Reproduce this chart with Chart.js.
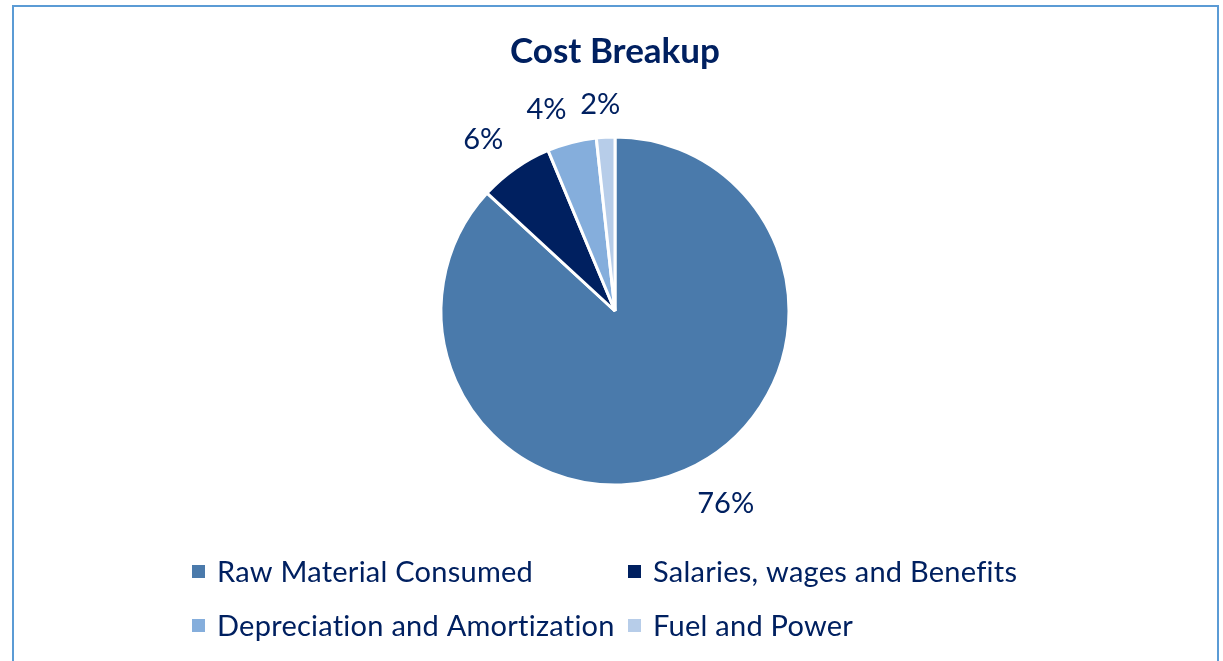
<!DOCTYPE html>
<html>
<head>
<meta charset="utf-8">
<script src="https://cdn.jsdelivr.net/npm/chart.js@4"></script>
<style>
  html, body { margin:0; padding:0; background:#fff; width:1223px; height:661px; overflow:hidden; }
  #frame { position:absolute; left:12px; top:5px; width:1203px; height:700px; border:2px solid #5b9bd5; box-sizing:content-box; }
  #c { position:absolute; left:0; top:0; }
</style>
</head>
<body>
<div id="frame"></div>
<canvas id="c" width="1223" height="661"></canvas>
<script>
const categories = ["Raw Material Consumed", "Salaries, wages and Benefits", "Depreciation and Amortization", "Fuel and Power"];
const costShare = [76, 6, 4, 1.5];
const sliceColors = ["#4a7aab", "#002060", "#85aedc", "#b7cde9"];
const titleText = "Cost Breakup";

const TEXT = "#002060";
const FONT = "Lato, 'Open Sans', sans-serif";

const labelPlugin = {
  id: 'pctLabels',
  afterDatasetsDraw(chart) {
    const ctx = chart.ctx;
    const meta = chart.getDatasetMeta(0);
    const vals = chart.data.datasets[0].data;
    ctx.save();
    ctx.font = "29px " + FONT;
    ctx.fillStyle = TEXT;
    ctx.textAlign = "center";
    ctx.textBaseline = "middle";
    const clamp = v => Math.max(-1, Math.min(1, v));
    meta.data.forEach((arc, i) => {
      const mid = (arc.startAngle + arc.endAngle) / 2;
      const txt = Math.round(vals[i]) + "%";
      const w = ctx.measureText(txt).width, h = 26;
      const dx = Math.cos(mid), dy = Math.sin(mid);
      const d = arc.outerRadius + 21;
      const px = arc.x + dx * d, py = arc.y + dy * d;
      const cx = px + clamp(dx * 4) * w / 2 + (dx > 0.3 ? 4 : 0);
      const cy = py + clamp(dy * 4) * h / 2;
      ctx.fillText(txt, cx, cy + 1);
    });
    ctx.restore();
  }
};

const legendPlugin = {
  id: 'gridLegend',
  afterDraw(chart) {
    const ctx = chart.ctx;
    const cols = [192, 628];
    const rows = [572, 626];
    ctx.save();
    ctx.font = "29px " + FONT;
    if ('letterSpacing' in ctx) ctx.letterSpacing = "0.25px";
    ctx.textBaseline = "middle";
    ctx.textAlign = "left";
    chart.data.labels.forEach((lab, i) => {
      const x = cols[i % 2], y = rows[Math.floor(i / 2)];
      ctx.fillStyle = chart.data.datasets[0].backgroundColor[i];
      ctx.fillRect(x, y - 7, 13, 13);
      ctx.fillStyle = TEXT;
      ctx.fillText(lab, x + 25, y + 1);
    });
    ctx.restore();
  }
};

new Chart(document.getElementById('c'), {
  type: 'pie',
  data: {
    labels: categories,
    datasets: [{
      data: costShare,
      backgroundColor: sliceColors,
      borderColor: "#ffffff",
      borderWidth: 3
    }]
  },
  options: {
    responsive: false,
    animation: false,
    radius: 174,
    layout: { padding: { top: 0, bottom: 122, left: 7, right: 0 } },
    plugins: {
      legend: { display: false },
      tooltip: { enabled: false },
      title: {
        display: true,
        text: titleText,
        color: TEXT,
        font: { family: FONT, size: 35, weight: 'bold' },
        padding: { top: 31, bottom: 10 }
      }
    }
  },
  plugins: [labelPlugin, legendPlugin]
});
</script>
</body>
</html>
